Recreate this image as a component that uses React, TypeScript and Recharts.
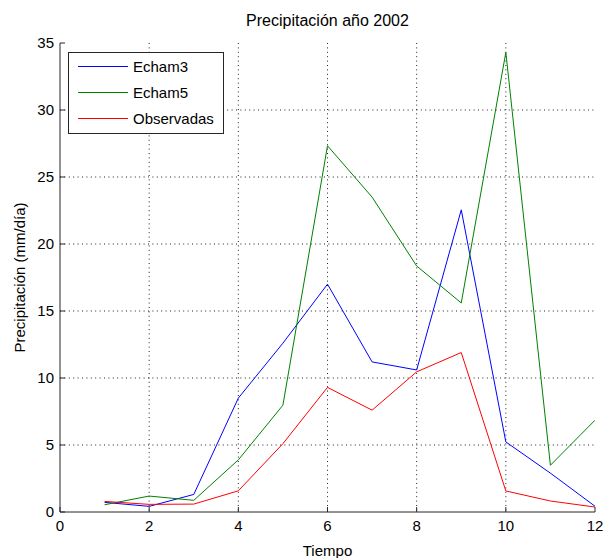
import React from 'react';
import { LineChart, Line, XAxis, YAxis, CartesianGrid, Legend } from 'recharts';

const tiempo = [1, 2, 3, 4, 5, 6, 7, 8, 9, 10, 11, 12];
const echam3 = [0.72, 0.42, 1.31, 8.5, 12.6, 17.0, 11.2, 10.6, 22.55, 5.23, 2.9, 0.43];
const echam5 = [0.54, 1.19, 0.87, 3.89, 7.97, 27.33, 23.5, 18.36, 15.6, 34.3, 3.49, 6.85];
const observadas = [0.79, 0.57, 0.59, 1.58, 5.1, 9.3, 7.6, 10.46, 11.9, 1.57, 0.82, 0.37];
const xTicks = [0, 2, 4, 6, 8, 10, 12];
const yTicks = [0, 5, 10, 15, 20, 25, 30, 35];

const seriesInfo = [
  { key: 'echam3', name: 'Echam3', color: '#0000ff' },
  { key: 'echam5', name: 'Echam5', color: '#008000' },
  { key: 'obs', name: 'Observadas', color: '#ff0000' },
];

const data = tiempo.map((t, i) => ({ t, echam3: echam3[i], echam5: echam5[i], obs: observadas[i] }));

const FONT = 'Arial, "Liberation Sans", Helvetica, sans-serif';
const AX = '#262626';

const BottomTick = (props: any) => {
  const { x, y, payload } = props;
  return (
    <g>
      <line x1={x} y1={y} x2={x} y2={y - 5} stroke={AX} strokeWidth={1} />
      <text x={x} y={y + 19} textAnchor="middle" fontSize={15} fontFamily={FONT} fill="#000">
        {payload.value}
      </text>
    </g>
  );
};

const LeftTick = (props: any) => {
  const { x, y, payload } = props;
  return (
    <g>
      <line x1={x} y1={y} x2={x + 5} y2={y} stroke={AX} strokeWidth={1} />
      <text x={x - 6} y={y + 5} textAnchor="end" fontSize={15} fontFamily={FONT} fill="#000">
        {payload.value}
      </text>
    </g>
  );
};

const TopTick = (props: any) => {
  const { x, y } = props;
  return <line x1={x} y1={y} x2={x} y2={y + 5} stroke={AX} strokeWidth={1} />;
};

const RightTick = (props: any) => {
  const { x, y } = props;
  return <line x1={x} y1={y} x2={x - 5} y2={y} stroke={AX} strokeWidth={1} />;
};

const LegendBox = () => (
  <div
    style={{
      width: 156,
      height: 82,
      boxSizing: 'border-box',
      border: `1px solid ${AX}`,
      background: '#fff',
      position: 'relative',
      fontFamily: FONT,
      fontSize: 15,
    }}
  >
    {seriesInfo.map((s, i) => (
      <div key={s.key} style={{ position: 'absolute', left: 0, top: [14, 40, 66][i] - 9, height: 18, width: 156 }}>
        <div style={{ position: 'absolute', left: 9, top: 8, width: 50, height: 0, borderTop: `1.5px solid ${s.color}` }} />
        <div style={{ position: 'absolute', left: 64, top: 0, lineHeight: '18px', color: '#000', whiteSpace: 'nowrap' }}>
          {s.name}
        </div>
      </div>
    ))}
  </div>
);

export default function App() {
  return (
    <div style={{ position: 'absolute', left: 0, top: 0, width: 603, height: 558, background: '#fff' }}>
      <LineChart width={603} height={558} data={data} margin={{ top: 43, right: 8, bottom: 0, left: 0 }}>
        <CartesianGrid stroke="#222" strokeDasharray="1 3.4" horizontalValues={[5, 10, 15, 20, 25, 30]} verticalValues={[2, 4, 6, 8, 10]} />
        <XAxis
          dataKey="t"
          type="number"
          domain={[0, 12]}
          ticks={xTicks}
          interval={0}
          height={46}
          tickSize={0}
          tickMargin={0}
          tick={<BottomTick />}
          tickLine={false}
          axisLine={{ stroke: AX, strokeWidth: 1 }}
          allowDataOverflow
        />
        <XAxis
          xAxisId="top"
          dataKey="t"
          type="number"
          orientation="top"
          domain={[0, 12]}
          ticks={xTicks}
          interval={0}
          height={0}
          tickSize={0}
          tickMargin={0}
          tick={<TopTick />}
          tickLine={false}
          axisLine={{ stroke: AX, strokeWidth: 1 }}
        />
        <YAxis
          type="number"
          domain={[0, 35]}
          ticks={yTicks}
          interval={0}
          width={60}
          tickSize={0}
          tickMargin={0}
          tick={<LeftTick />}
          tickLine={false}
          axisLine={{ stroke: AX, strokeWidth: 1 }}
          allowDataOverflow
        />
        <YAxis
          yAxisId="right"
          orientation="right"
          type="number"
          domain={[0, 35]}
          ticks={yTicks}
          interval={0}
          width={0}
          tickSize={0}
          tickMargin={0}
          tick={<RightTick />}
          tickLine={false}
          axisLine={{ stroke: AX, strokeWidth: 1.5 }}
        />
        <Legend
          layout="horizontal"
          verticalAlign="middle"
          align="center"
          wrapperStyle={{ left: 68, top: 52, width: 156, height: 82 }}
          content={() => <LegendBox />}
        />
        {seriesInfo.map((s) => (
          <Line
            key={s.key}
            dataKey={s.key}
            name={s.name}
            stroke={s.color}
            strokeWidth={1}
            dot={false}
            activeDot={false}
            type="linear"
            isAnimationActive={false}
          />
        ))}
        <text x={327.5} y={26} textAnchor="middle" fontSize={16} fontFamily={FONT} fill="#000">
          Precipitación año 2002
        </text>
        <text x={327.5} y={556} textAnchor="middle" fontSize={15} fontFamily={FONT} fill="#000">
          Tiempo
        </text>
        <text
          x={25}
          y={277.5}
          textAnchor="middle"
          fontSize={15}
          fontFamily={FONT}
          fill="#000"
          transform="rotate(-90 25 277.5)"
        >
          Precipitación (mm/día)
        </text>
      </LineChart>
    </div>
  );
}
